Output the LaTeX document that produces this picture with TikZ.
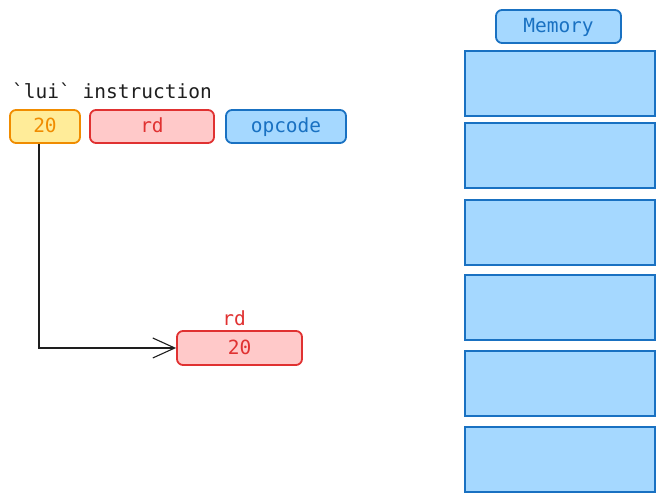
\documentclass[tikz,border=0pt]{standalone}
\usepackage{fontspec}
\newfontfamily\mono{DejaVu Sans Mono}
\usetikzlibrary{arrows.meta}
\definecolor{ylwfill}{HTML}{FFEC99}
\definecolor{ylwline}{HTML}{F08C00}
\definecolor{redfill}{HTML}{FFC9C9}
\definecolor{redline}{HTML}{E03131}
\definecolor{bluefill}{HTML}{A5D8FF}
\definecolor{blueline}{HTML}{1971C2}
\definecolor{ink}{HTML}{1E1E1E}
\tikzset{
  field/.style={draw, line width=1.8pt, rounded corners=6pt, inner sep=0pt,
    text height=15pt, text depth=2pt,
    font=\mono\fontsize{19.5}{22}\selectfont},
  yfield/.style={field, fill=ylwfill, draw=ylwline, text=ylwline},
  rfield/.style={field, fill=redfill, draw=redline, text=redline},
  bfield/.style={field, fill=bluefill, draw=blueline, text=blueline},
  cell/.style={draw=blueline, fill=bluefill, line width=1.2pt, inner sep=0pt,
    minimum width=190pt, minimum height=65pt},
  caption/.style={font=\mono\fontsize{19.5}{22}\selectfont, inner sep=0pt},
  link/.style={draw=ink, line width=1.1pt,
    -{Straight Barb[length=22pt,width=20pt,line width=1.1pt]}}
}
\begin{document}
\begin{tikzpicture}[x=1pt,y=-1pt]
  \useasboundingbox (0,0) rectangle (665,502);

  % instruction fields
  \node[caption, anchor=base west, text=ink] (title) at (12,99) {`lui` instruction};
  \node[yfield, minimum width=70pt, minimum height=33pt] (imm) at (45,126.5) {20};
  \node[rfield, minimum width=124pt, minimum height=33pt] (rd) at (152,126.5) {rd};
  \node[bfield, minimum width=120pt, minimum height=33pt] (op) at (286,126.5) {opcode};

  % destination register
  \node[rfield, minimum width=125pt, minimum height=34pt] (reg) at (239.5,348) {20};
  \node[caption, text=redline, anchor=base] (reglabel) at (234,326) {rd};

  % immediate flows into rd
  \coordinate (tap) at ([xshift=-6pt]imm.south);
  \draw[link] (tap) |- (reg.west);

  % memory column
  \node[bfield, minimum width=125pt, minimum height=33pt] (memlabel) at (558.5,26.5) {Memory};
  \node[cell] (m1) at (560,83.5) {};
  \node[cell] (m2) at (560,155.5) {};
  \node[cell] (m3) at (560,232.5) {};
  \node[cell] (m4) at (560,307.5) {};
  \node[cell] (m5) at (560,383.5) {};
  \node[cell] (m6) at (560,459.5) {};
\end{tikzpicture}
\end{document}
